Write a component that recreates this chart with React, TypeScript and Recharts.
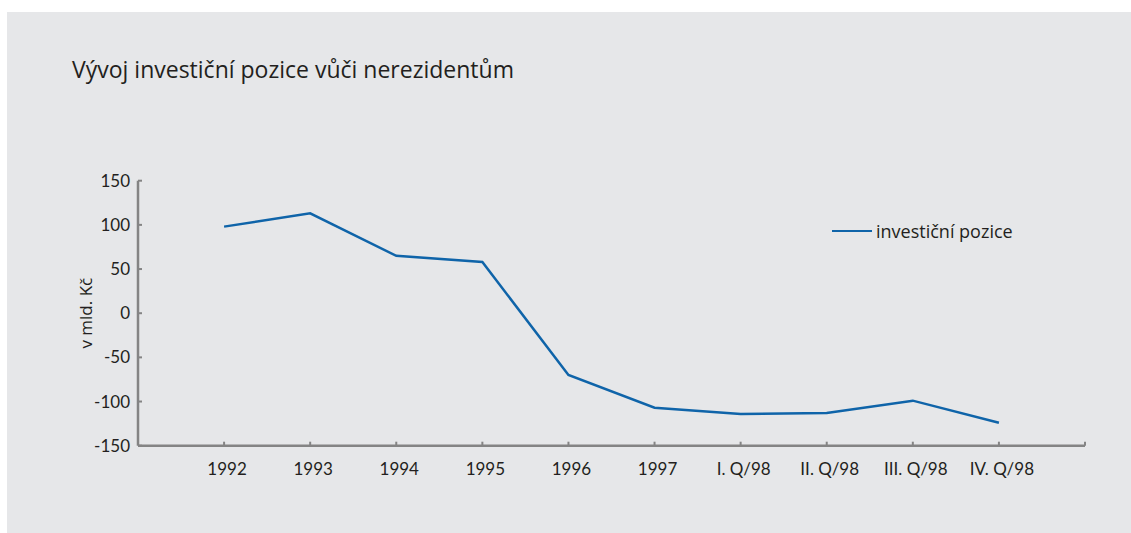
import { LineChart, Line, XAxis, YAxis } from "recharts"

const categories = ["1992", "1993", "1994", "1995", "1996", "1997", "I. Q/98", "II. Q/98", "III. Q/98", "IV. Q/98"]
const positionValues = [98, 113, 65, 58, -70, -107, -114, -113, -99, -124]
const yTicks = [-150, -100, -50, 0, 50, 100, 150]
// slots 1..10 hold the data, slot 11 is just the closing tick at the axis end
const xSlots = [1, 2, 3, 4, 5, 6, 7, 8, 9, 10, 11]

const FONT = "Lato, 'Open Sans', sans-serif"
const WORD_FONT = "'Open Sans', Lato, sans-serif"
const TEXT = "#231f20"
const AXIS = "#848484"
const BLUE = "#0f64a9"

const data = categories.map((label, i) => ({
  slot: i + 1,
  label,
  value: positionValues[i],
}))

function XTick(props: any) {
  const { x, y, payload } = props
  const label = categories[payload.value - 1]
  return (
    <g>
      <line x1={x} y1={y} x2={x} y2={y - 4} stroke={AXIS} strokeWidth={2} />
      {label && (
        <text x={x + 3} y={y + 29} textAnchor="middle" fill={TEXT} fontSize={17} fontFamily={FONT}>
          {label}
        </text>
      )}
    </g>
  )
}

function YTick(props: any) {
  const { x, y, payload } = props
  return (
    <g>
      <line x1={x} y1={y} x2={x + 4} y2={y} stroke={AXIS} strokeWidth={2} />
      <text x={x - 8} y={y + 6} textAnchor="end" fill={TEXT} fontSize={17} fontFamily={FONT}>
        {payload.value}
      </text>
    </g>
  )
}

function YLabel(props: any) {
  const { viewBox } = props
  const cx = viewBox.x + 8
  const cy = viewBox.y + viewBox.height / 2
  return (
    <text
      x={cx}
      y={cy}
      transform={`rotate(-90, ${cx}, ${cy})`}
      textAnchor="middle"
      dominantBaseline="central"
      fill={TEXT}
      fontSize={17}
      fontFamily={WORD_FONT}
    >
      v mld. Kč
    </text>
  )
}

export default function App() {
  return (
    <div
      style={{
        position: "absolute",
        left: 7,
        top: 12,
        width: 1124,
        height: 521,
        background: "#e6e7e9",
      }}
    >
      <div
        style={{
          position: "absolute",
          left: 65,
          top: 41,
          fontFamily: WORD_FONT,
          fontSize: 23,
          color: TEXT,
          whiteSpace: "nowrap",
        }}
      >
        Vývoj investiční pozice vůči nerezidentům
      </div>
      <div
        style={{
          position: "absolute",
          left: 825,
          top: 207,
          display: "flex",
          alignItems: "center",
          fontFamily: WORD_FONT,
          fontSize: 18,
          color: TEXT,
          whiteSpace: "nowrap",
        }}
      >
        <span style={{ display: "inline-block", width: 40, height: 2.5, background: BLUE }} />
        <span style={{ marginLeft: 4 }}>investiční pozice</span>
      </div>
      <LineChart
        width={1124}
        height={521}
        data={data}
        margin={{ top: 168.7, right: 46, bottom: 57.3, left: 71 }}
      >
        <XAxis
          type="number"
          dataKey="slot"
          domain={[0, 11]}
          ticks={xSlots}
          interval={0}
          height={30}
          tickSize={0}
          tickMargin={0}
          tick={XTick}
          axisLine={{ stroke: AXIS, strokeWidth: 2.5 }}
          tickLine={false}
        />
        <YAxis
          domain={[-150, 150]}
          ticks={yTicks}
          interval={0}
          width={60}
          tickSize={0}
          tickMargin={0}
          tick={YTick}
          axisLine={{ stroke: AXIS, strokeWidth: 2.5 }}
          tickLine={false}
          label={{ content: YLabel }}
        />
        <Line
          type="linear"
          dataKey="value"
          stroke={BLUE}
          strokeWidth={2.5}
          dot={false}
          activeDot={false}
          isAnimationActive={false}
        />
      </LineChart>
    </div>
  )
}
